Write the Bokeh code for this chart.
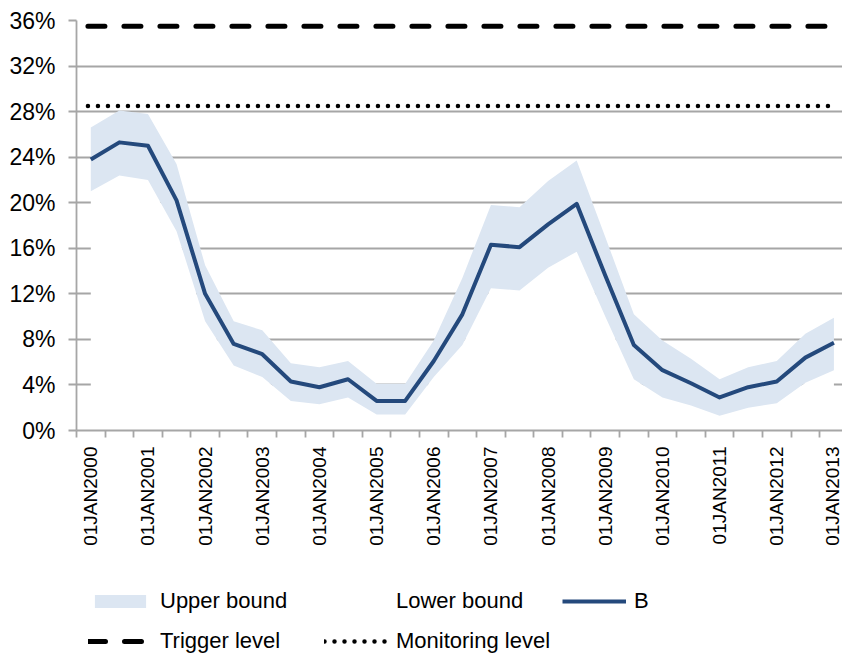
import numpy as np
from bokeh.plotting import figure
from bokeh.layouts import column
from bokeh.models import (FixedTicker, PrintfTickFormatter, Legend, LegendItem,
                          ColumnDataSource, Range1d)
from bokeh.embed import file_html
from bokeh.resources import INLINE

# ---------------- data ----------------
dates = ["01JAN2000", "01JUL2000", "01JAN2001", "01JUL2001", "01JAN2002", "01JUL2002",
         "01JAN2003", "01JUL2003", "01JAN2004", "01JUL2004", "01JAN2005", "01JUL2005",
         "01JAN2006", "01JUL2006", "01JAN2007", "01JUL2007", "01JAN2008", "01JUL2008",
         "01JAN2009", "01JUL2009", "01JAN2010", "01JUL2010", "01JAN2011", "01JUL2011",
         "01JAN2012", "01JUL2012", "01JAN2013"]
b_values = [23.8, 25.3, 25.0, 20.2, 12.0, 7.6, 6.7, 4.3, 3.8, 4.5, 2.6, 2.6, 6.1, 10.2,
            16.3, 16.1, 18.1, 19.9, 13.6, 7.5, 5.3, 4.15, 2.9, 3.8, 4.3, 6.4, 7.7]
upper_bound = [26.6, 28.1, 27.8, 23.4, 14.5, 9.6, 8.8, 5.9, 5.55, 6.1, 4.1, 4.1, 7.9, 13.4,
               19.8, 19.6, 21.9, 23.7, 17.0, 10.2, 7.9, 6.3, 4.5, 5.55, 6.1, 8.5, 9.9]
lower_bound = [21.0, 22.4, 22.0, 17.5, 9.6, 5.7, 4.7, 2.6, 2.3, 2.9, 1.4, 1.4, 4.7, 7.5,
               12.5, 12.3, 14.3, 15.7, 10.0, 4.5, 2.9, 2.2, 1.3, 2.0, 2.4, 4.2, 5.3]
trigger_level = 35.5
monitoring_level = 28.5
y_ticks = [0, 4, 8, 12, 16, 20, 24, 28, 32, 36]
legend_labels = ["Upper bound", "Lower bound", "B", "Trigger level", "Monitoring level"]

# ---------------- styles ----------------
FONT = "Liberation Sans"
GRID = "#a6a6a6"
BAND = "#dce6f2"
LINE = "#24497c"
trig_style = dict(line_color="black", line_width=5, line_dash="17 19", line_cap="round")
mon_style = dict(line_color="black", line_width=4.5, line_dash="0 10", line_cap="round")
b_style = dict(line_color=LINE, line_width=4, line_join="round")

n = len(dates)
x = np.arange(n)
src = ColumnDataSource(dict(x=x, b=b_values, up=upper_bound, lo=lower_bound,
                            zero=np.zeros(n)))

p = figure(width=842, height=572, output_backend="svg", toolbar_location=None,
           x_range=Range1d(-0.5, 26.3), y_range=Range1d(0, 36),
           min_border_left=76, min_border_right=0, min_border_top=20,
           min_border_bottom=142, outline_line_color=None,
           background_fill_color="white", border_fill_color="white")

# axes
p.xgrid.visible = False
p.ygrid.ticker = FixedTicker(ticks=y_ticks)
p.ygrid.grid_line_color = GRID
p.ygrid.grid_line_width = 1.8

p.yaxis.ticker = FixedTicker(ticks=y_ticks)
p.yaxis.formatter = PrintfTickFormatter(format="%d%%")
p.yaxis.axis_line_color = GRID
p.yaxis.axis_line_width = 1.8
p.yaxis.major_tick_line_color = GRID
p.yaxis.major_tick_line_width = 1.8
p.yaxis.major_tick_out = 8
p.yaxis.major_tick_in = 0
p.yaxis.minor_tick_line_color = None
p.yaxis.major_label_text_font = FONT
p.yaxis.major_label_text_font_size = "23px"
p.yaxis.major_label_text_color = "black"
p.yaxis.major_label_standoff = 13

label_pos = [int(i) for i in x if i % 2 == 0]
boundaries = [float(i) - 0.5 for i in range(n + 1)]
p.xaxis.ticker = FixedTicker(ticks=label_pos, minor_ticks=boundaries)
p.xaxis.major_label_overrides = {i: dates[i] for i in label_pos}
p.xaxis.major_label_orientation = np.pi / 2
p.xaxis.axis_line_color = GRID
p.xaxis.axis_line_width = 1.8
p.xaxis.major_tick_out = 0
p.xaxis.major_tick_in = 0
p.xaxis.minor_tick_out = 7
p.xaxis.minor_tick_in = 0
p.xaxis.minor_tick_line_color = GRID
p.xaxis.minor_tick_line_width = 1.8
p.xaxis.major_label_text_font = FONT
p.xaxis.major_label_text_font_size = "19px"
p.xaxis.major_label_text_color = "black"
p.xaxis.major_label_standoff = 9

# glyphs
p.varea(x="x", y1="zero", y2="lo", source=src, fill_color="white")
p.varea(x="x", y1="lo", y2="up", source=src, fill_color=BAND)
p.line(x="x", y="b", source=src, **b_style)
lx = [float(x[0]) - 0.1, float(x[-1])]
p.line(lx, [trigger_level] * 2, **trig_style)
p.line(lx, [monitoring_level] * 2, **mon_style)

# ---------------- legend strip ----------------
q = figure(width=842, height=90, output_backend="svg", toolbar_location=None,
           x_range=Range1d(0, 1), y_range=Range1d(0, 1),
           x_axis_type=None, y_axis_type=None, outline_line_color=None,
           min_border_left=0, min_border_right=0, min_border_top=0, min_border_bottom=0,
           background_fill_color="white", border_fill_color="white")
# single-point legend proxies (draw nothing themselves, only their legend swatches)
l_up = q.varea(x=[0], y1=[0], y2=[0], fill_color=BAND)
l_lo = q.varea(x=[0], y1=[0], y2=[0], fill_color="white")
l_b = q.line(x=[0], y=[0], **b_style)
l_trig = q.line(x=[0], y=[0], **trig_style)
l_mon = q.line(x=[0], y=[0], **mon_style)
rends = [l_up, l_lo, l_b, l_trig, l_mon]

legend = Legend(items=[LegendItem(label=lab, renderers=[r], index=0)
                       for lab, r in zip(legend_labels, rends)],
                orientation="horizontal", ncols=3, location=(12, 7),
                glyph_width=64, glyph_height=16, label_standoff=8, label_width=152,
                label_height=28, spacing=12, padding=0, margin=0,
                border_line_color=None, background_fill_alpha=0,
                label_text_font=FONT, label_text_font_size="22px", label_text_color="black")
q.add_layout(legend, "center")

layout = column(p, q, spacing=0)
open("out.html", "w").write(file_html(layout, INLINE))
